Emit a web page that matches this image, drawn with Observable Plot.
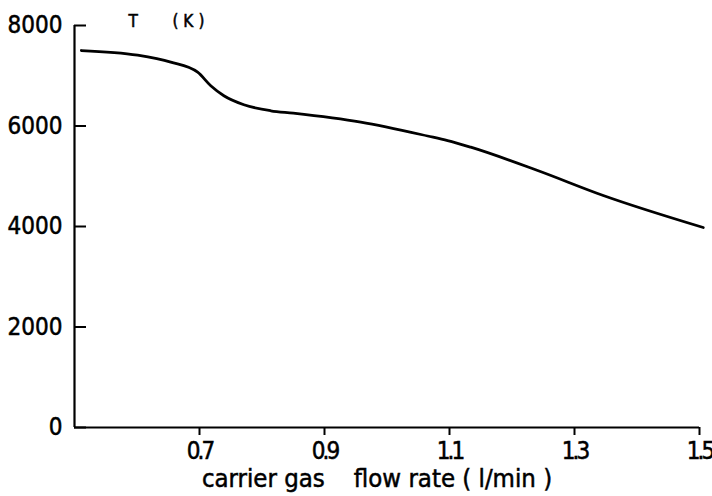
<!DOCTYPE html>
<html>
<head>
<meta charset="utf-8">
<script src="https://cdn.jsdelivr.net/npm/d3@7"></script>
<script src="https://cdn.jsdelivr.net/npm/@observablehq/plot@0.6"></script>
<style>
  html, body { margin: 0; padding: 0; background: #fff; }
  svg text { white-space: pre; stroke: #000; stroke-width: 0.5px; }
  g[aria-label="x-axis tick label"] text { letter-spacing: -3px; }
  g.title-text text { letter-spacing: 5px; }
</style>
</head>
<body>
<div id="chart"></div>
<script>
// Data
const flowRate = [0.511, 0.601, 0.654, 0.697, 0.718, 0.739, 0.771, 0.814, 0.850, 0.958, 1.065, 1.097, 1.134, 1.241, 1.346, 1.506];
const temperature = [7502, 7409, 7270, 7070, 6801, 6602, 6423, 6303, 6255, 6076, 5801, 5711, 5578, 5114, 4617, 3980];
const xTicks = [0.7, 0.9, 1.1, 1.3, 1.5];
const yTicks = [0, 2000, 4000, 6000, 8000];
const yTitle = "T   (K)";
const xTitle = "carrier gas    flow rate ( l/min )";

const W = 712, H = 496;
const mL = 74, mR = 13, mT = 25, mB = 69;
const frameW = W - mL - mR, frameH = H - mT - mB;

const data = flowRate.map((f, i) => ({flow: f, T: temperature[i]}));
const font = "'DejaVu Sans Condensed', 'DejaVu Sans', sans-serif";

const chart = Plot.plot({
  width: W,
  height: H,
  marginLeft: mL,
  marginRight: mR,
  marginTop: mT,
  marginBottom: mB,
  style: {fontFamily: font, fontStretch: "condensed", color: "#000", background: "#fff"},
  x: {domain: [0.5, 1.5]},
  y: {domain: [0, 8000]},
  marks: [
    Plot.ruleX([0.5], {stroke: "#000", strokeWidth: 2.2}),
    Plot.ruleY([0], {stroke: "#000", strokeWidth: 2.2}),
    // inward y ticks (12px long) and outward x ticks (8px long)
    Plot.tickY(yTicks, {y: d => d, insetRight: frameW - 12, stroke: "#000", strokeWidth: 2}),
    Plot.tickX(xTicks, {x: d => d, insetTop: frameH, insetBottom: -8, stroke: "#000", strokeWidth: 2}),
    Plot.axisY({ticks: yTicks, tickSize: 0, tickPadding: 12, tickFormat: d3.format("d"), fontSize: 24, label: null}),
    Plot.axisX({ticks: xTicks, tickSize: 0, tickPadding: 14, tickFormat: d3.format(".1f"), fontSize: 24, label: null}),
    Plot.line(data, {x: "flow", y: "T", stroke: "#000", strokeWidth: 2.8, curve: "monotone-x"}),
    Plot.text([yTitle], {frameAnchor: "top-left", text: d => d, textAnchor: "start", lineAnchor: "middle", dx: 54, dy: -3.5, fontSize: 17, className: "title-text"}),
    Plot.text([xTitle], {frameAnchor: "bottom", text: d => d, textAnchor: "middle", lineAnchor: "middle", dx: -10, dy: 51, fontSize: 25.5})
  ]
});
document.getElementById("chart").appendChild(chart);
</script>
</body>
</html>
